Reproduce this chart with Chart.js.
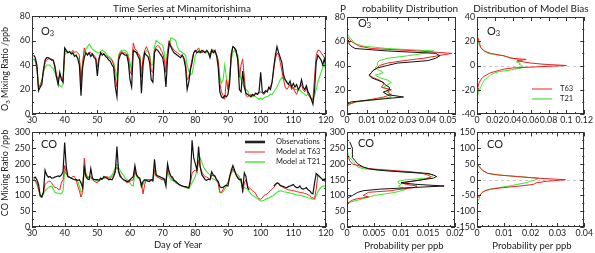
<!DOCTYPE html>
<html>
<head>
<meta charset="utf-8">
<script src="https://cdn.jsdelivr.net/npm/chart.js@4.4.1/dist/chart.umd.min.js"></script>
<style>
  body { margin: 0; background: #fff; width: 595px; height: 253px; overflow: hidden; position: relative; }
  canvas { position: absolute; }
</style>
</head>
<body>
<canvas id="o3Series"></canvas>
<canvas id="coSeries"></canvas>
<canvas id="o3Prob"></canvas>
<canvas id="coProb"></canvas>
<canvas id="o3Bias"></canvas>
<canvas id="coBias"></canvas>
<script>
// time series sampled every half day, starting at day 30.5
const dayStart = 30.5;
const dayStep = 0.5;

const o3Obs = [
  48,46,40,19,22,24,36,44,46,46,
  45,44,44,38,30,24,34,28,26,54,
  52,50,51,49,50,47,48,45,40,15,
  38,46,50,48,50,47,49,46,45,31,
  44,50,48,49,47,46,44,43,40,38,
  22,14,44,48,50,49,48,48,42,28,
  22,52,51,50,47,44,17,40,50,48,
  47,42,28,26,50,53,52,50,48,46,
  38,22,45,58,55,52,50,49,48,47,
  46,48,45,38,20,26,36,42,50,52,
  50,51,50,52,51,50,52,50,46,52,
  50,52,48,38,18,14,13,15,14,16,
  25,48,55,54,52,44,20,18,35,22,
  17,16,15,14,16,15,17,16,18,34,
  18,17,19,18,22,20,26,38,48,55,
  50,46,42,32,28,26,24,27,22,25,
  22,24,20,22,28,22,20,23,18,16,
  12,8,20,42,48,46,44,40,45,38
];
const o3T63 = [
  45,44,38,22,23,26,35,42,44,45,
  45,45,44,40,32,28,32,30,28,50,
  52,50,51,50,52,50,51,50,48,25,
  42,54,50,49,50,50,49,48,46,38,
  46,49,50,49,48,47,46,45,44,40,
  30,22,46,50,51,50,50,49,46,35,
  32,58,53,52,49,47,30,46,52,55,
  52,48,35,34,52,55,56,55,52,50,
  44,34,52,60,56,54,52,51,50,49,
  48,48,46,42,28,30,38,45,50,51,
  52,54,51,50,51,50,52,50,48,52,
  52,50,48,44,25,18,15,12,28,20,
  30,50,55,54,50,45,30,40,45,30,
  15,14,15,16,15,16,17,16,17,18,
  17,16,18,19,20,22,26,36,45,50,
  48,42,35,28,22,20,22,24,20,22,
  18,16,20,22,24,20,18,21,16,14,
  12,12,30,48,52,52,50,48,46,44
];
const o3T21 = [
  45,43,38,22,24,28,34,38,40,40,
  40,38,37,34,30,25,23,22,24,48,
  50,50,51,49,49,48,48,46,44,30,
  42,50,53,55,57,55,53,52,51,50,
  50,51,52,51,50,48,47,46,44,42,
  36,30,48,51,52,52,52,51,48,42,
  36,52,51,50,49,48,36,42,50,52,
  51,48,40,40,55,60,59,58,57,56,
  50,40,50,55,62,62,61,60,55,52,
  51,50,49,48,40,35,32,33,40,48,
  50,52,51,50,52,50,51,50,49,53,
  52,50,48,44,30,25,28,40,30,20,
  30,45,50,52,50,48,35,28,25,22,
  20,19,16,15,14,15,14,13,12,13,
  12,13,14,14,15,16,16,18,20,22,
  25,28,30,29,28,26,25,23,22,21,
  20,20,19,20,18,17,16,15,16,14,
  13,12,15,20,26,30,34,38,40,36
];

const coObs = [
  155,158,150,135,100,95,110,180,165,158,
  160,155,156,158,160,162,160,165,175,268,
  190,160,158,155,152,150,150,148,150,140,
  125,190,160,152,150,185,155,150,150,150,
  148,155,152,160,158,155,150,152,150,160,
  175,255,175,160,155,150,148,145,145,150,
  155,160,195,165,158,155,130,145,150,148,
  145,145,150,148,215,165,162,160,158,155,
  152,130,200,175,162,158,148,145,140,135,
  132,130,128,128,126,124,150,275,220,200,
  180,255,190,165,158,150,148,152,150,175,
  165,162,150,145,128,125,126,130,132,130,
  160,180,195,180,165,155,150,152,118,172,
  160,125,118,null,null,null,null,null,null,null,
  null,null,null,null,null,null,null,130,135,140,
  138,132,130,128,126,125,128,130,132,135,
  128,125,125,130,122,120,122,125,118,115,
  108,105,140,170,165,160,155,150,152,145
];
const coT63 = [
  150,148,140,120,100,98,110,135,140,145,
  145,140,132,125,125,120,118,140,150,195,
  170,160,158,155,160,160,150,130,115,95,
  110,218,170,155,158,160,150,145,142,140,
  145,150,152,155,158,160,155,155,160,165,
  180,190,180,165,155,150,145,140,142,145,
  148,150,180,165,160,150,140,105,135,150,
  150,150,148,145,180,160,158,155,152,150,
  150,150,190,170,160,150,145,140,138,135,
  132,130,128,127,126,125,140,170,178,180,
  178,210,190,175,165,160,158,155,150,165,
  162,160,150,140,110,110,120,130,135,140,
  160,175,185,175,165,160,150,150,110,140,
  150,130,125,120,115,112,105,95,90,88,
  92,100,102,105,110,115,120,125,132,140,
  138,130,128,125,122,120,118,117,116,115,
  114,112,111,110,109,108,106,105,102,100,
  95,92,90,120,165,160,155,150,145,140
];
const coT21 = [
  150,145,135,120,95,95,105,115,120,125,
  128,130,120,110,108,108,106,105,115,175,
  168,160,158,155,152,150,148,145,130,110,
  115,170,165,160,158,155,152,150,148,145,
  148,150,152,155,155,156,158,160,165,175,
  190,200,188,180,170,165,155,150,145,140,
  132,130,175,160,155,150,125,135,148,150,
  150,150,148,145,190,170,160,155,152,150,
  148,145,175,160,150,148,145,142,138,135,
  132,130,128,125,123,122,130,140,150,160,
  180,210,220,205,190,182,175,170,165,155,
  152,150,145,140,110,108,112,120,130,140,
  155,170,180,175,170,165,160,140,130,125,
  122,120,112,105,100,98,94,90,86,82,
  83,85,88,90,92,95,98,100,105,110,
  113,115,114,112,111,110,109,108,106,105,
  104,102,101,100,99,98,96,95,93,92,
  90,88,88,100,110,120,126,130,130,128
];

// probability distributions (value bins in ppb, probability per ppb)
const o3Bins = [6,8,10,12,14,16,18,20,22,24,26,28,30,32,34,36,38,40,42,44,46,48,50,52,54,56,58,60,62,64,66];
const o3ProbObs = [0,0,0.002,0.015,0.028,0.020,0.018,0.021,0.021,0.019,0.018,0.015,0.012,0.011,0.012,0.013,0.015,0.020,0.025,0.040,0.044,0.046,0.044,0.020,0.004,0.002,0.001,0.001,0,0,0];
const o3ProbT63 = [0,0.001,0.004,0.012,0.018,0.022,0.020,0.022,0.017,0.018,0.018,0.016,0.013,0.011,0.012,0.013,0.015,0.016,0.020,0.028,0.038,0.045,0.052,0.035,0.012,0.006,0.004,0.002,0.001,0,0];
const o3ProbT21 = [0,0.001,0.005,0.015,0.022,0.020,0.018,0.021,0.018,0.020,0.022,0.020,0.016,0.014,0.018,0.016,0.014,0.015,0.015,0.016,0.020,0.030,0.038,0.043,0.020,0.008,0.004,0.003,0.002,0.001,0];

const coBins = [75,80,85,90,95,100,105,110,115,120,125,130,135,140,145,150,155,160,165,170,175,180,185,190,200,210,220,230,250,270];
const coProbObs = [0,0,0,0,0.0005,0.001,0.0015,0.002,0.003,0.006,0.012,0.018,0.013,0.010,0.012,0.014,0.016,0.0166,0.016,0.015,0.010,0.006,0.004,0.003,0.002,0.0015,0.001,0.001,0.001,0.0005];
const coProbT63 = [0,0.0005,0.001,0.002,0.004,0.003,0.0035,0.004,0.008,0.010,0.0125,0.013,0.011,0.010,0.012,0.014,0.015,0.0155,0.015,0.014,0.012,0.008,0.004,0.003,0.001,0.0005,0.0003,0,0,0];
const coProbT21 = [0,0.0008,0.002,0.003,0.004,0.005,0.007,0.009,0.010,0.011,0.010,0.0095,0.010,0.0095,0.0095,0.011,0.015,0.0158,0.016,0.014,0.010,0.006,0.003,0.002,0.0015,0.001,0.0005,0.0002,0,0];

// model bias distributions
const o3BiasBins = [-30,-28,-25,-22,-20,-18,-15,-12,-10,-8,-6,-5,-4,-3,-2,-1,0,1,2,3,4,5,6,8,10,12,15,18,20,23,25,28];
const o3BiasT63 = [0,0,0,0.001,0.002,0.001,0.002,0.004,0.006,0.010,0.015,0.020,0.025,0.030,0.040,0.070,0.100,0.075,0.060,0.052,0.045,0.055,0.038,0.030,0.015,0.008,0.004,0.003,0.002,0.001,0,0];
const o3BiasT21 = [0,0,0.001,0.002,0.003,0.004,0.006,0.008,0.012,0.015,0.020,0.025,0.035,0.042,0.050,0.052,0.050,0.047,0.048,0.044,0.050,0.045,0.040,0.030,0.012,0.008,0.004,0.002,0.001,0.001,0.001,0];

const coBiasBins = [-70,-65,-60,-55,-50,-45,-40,-35,-30,-25,-20,-15,-10,-5,0,5,10,15,20,25,30,35,40,45,50];
const coBiasT63 = [0,0,0,0.0005,0.001,0.0015,0.002,0.003,0.005,0.010,0.016,0.021,0.022,0.026,0.033,0.022,0.015,0.008,0.004,0.003,0.002,0.0015,0.001,0.0005,0];
const coBiasT21 = [0,0.0005,0.001,0.001,0.001,0.0015,0.002,0.003,0.005,0.008,0.012,0.015,0.018,0.020,0.022,0.023,0.015,0.008,0.004,0.003,0.002,0.0015,0.001,0.0005,0];

// tick labels
const dayTicks = [30,40,50,60,70,80,90,100,110,120];
const o3Ticks = [0,20,40,60,80];
const coTicks = [0,50,100,150,200,250,300];
const o3ProbTicks = [0,0.01,0.02,0.03,0.04,0.05];
const coProbTicks = [0,0.005,0.01,0.015,0.02];
const o3BiasProbTicks = [0,0.02,0.04,0.06,0.08,0.1,0.12];
const coBiasProbTicks = [0,0.01,0.02,0.03,0.04];
const o3BiasTicks = [-40,-20,0,20,40];
const coBiasTicks = [-150,-100,-50,0,50,100,150];

const BLACK = '#111111', RED = '#ee2020', GREEN = '#3fe62e', INK = '#222222';
const FONT = 'Lato, "Open Sans", sans-serif';

Chart.defaults.font.family = FONT;
Chart.defaults.color = INK;

const series = vals => vals.map((v, i) => ({ x: dayStart + i * dayStep, y: v }));
const profile = (bins, probs) => bins.map((b, i) => ({ x: probs[i], y: b }));

const O3 = [{ t: 'O' }, { t: '3', sub: true }];

// text, keys and tick spacing per panel, in page coordinates
const decor = {
  o3Series: {
    minor: [2, 10],
    texts: [
      { parts: [{ t: 'Time Series at Minamitorishima' }], x: 182, y: 8.5, size: 10, align: 'center' },
      { parts: [...O3, { t: ' Mixing Ratio /ppb' }], x: 5.5, y: 69, size: 9, align: 'center', rot: true },
      { parts: O3, x: 41, y: 31, size: 11 }
    ]
  },
  coSeries: {
    minor: [2, 25],
    texts: [
      { parts: [{ t: 'CO Mixing Ratio /ppb' }], x: 5.5, y: 173, size: 9, align: 'center', rot: true },
      { parts: [{ t: 'Day of Year' }], x: 178, y: 245, size: 9.5, align: 'center' },
      { parts: [{ t: 'CO' }], x: 41, y: 144.5, size: 11 }
    ],
    keys: [
      { label: 'Observations', color: '#222', width: 2.6, x1: 245, x2: 265, y: 142, tx: 276 },
      { label: 'Model at T63', color: RED, width: 1, x1: 245, x2: 265, y: 152, tx: 276 },
      { label: 'Model at T21', color: GREEN, width: 1.4, x1: 245, x2: 265, y: 162, tx: 276 }
    ]
  },
  o3Prob: {
    minor: [0.005, 10],
    texts: [
      { parts: [{ t: 'P' }], x: 340, y: 8.5, size: 10 },
      { parts: [{ t: 'robability Distribution' }], x: 362, y: 8.5, size: 10 },
      { parts: O3, x: 358, y: 23, size: 11 }
    ]
  },
  coProb: {
    minor: [0.001, 25],
    texts: [
      { parts: [{ t: 'CO' }], x: 358, y: 143.5, size: 11 },
      { parts: [{ t: 'Probability per ppb' }], x: 404, y: 246, size: 9.5, align: 'center' }
    ]
  },
  o3Bias: {
    minor: [0.01, 10],
    zero: true,
    texts: [
      { parts: [{ t: 'Distribution of Model Bias' }], x: 531, y: 8.5, size: 10, align: 'center' },
      { parts: O3, x: 487, y: 31, size: 11 }
    ],
    keys: [
      { label: 'T63', color: RED, width: 1, x1: 532, x2: 552, y: 89, tx: 560 },
      { label: 'T21', color: GREEN, width: 1.2, x1: 532, x2: 552, y: 99, tx: 560 }
    ]
  },
  coBias: {
    minor: [0.002, 25],
    zero: true,
    texts: [
      { parts: [{ t: 'CO' }], x: 487, y: 144, size: 11 },
      { parts: [{ t: 'Probability per ppb' }], x: 532, y: 246, size: 9.5, align: 'center' }
    ]
  }
};

function drawRich(ctx, parts, x, y, size, align) {
  const fontOf = p => (p.sub ? size * 0.68 : size) + 'px ' + FONT;
  let w = 0;
  parts.forEach(p => { ctx.font = fontOf(p); w += ctx.measureText(p.t).width; });
  let cx = align === 'center' ? x - w / 2 : x;
  parts.forEach(p => {
    ctx.font = fontOf(p);
    ctx.fillText(p.t, cx, y + (p.sub ? size * 0.28 : 0));
    cx += ctx.measureText(p.t).width;
  });
}

const framePlugin = {
  id: 'frame',
  beforeDatasetsDraw(chart) {
    const d = decor[chart.canvas.id];
    if (!d.zero) return;
    const { ctx, chartArea: a, scales: { y } } = chart;
    const py = Math.round(y.getPixelForValue(0)) + 0.5;
    ctx.save();
    ctx.strokeStyle = '#c8c8c8';
    ctx.lineWidth = 1;
    ctx.setLineDash([3, 3]);
    ctx.beginPath();
    ctx.moveTo(a.left, py);
    ctx.lineTo(a.right, py);
    ctx.stroke();
    ctx.restore();
  },
  afterDraw(chart) {
    const d = decor[chart.canvas.id];
    const { ctx, chartArea: a, scales: { x, y } } = chart;
    const ox = chart.canvas.offsetLeft, oy = chart.canvas.offsetTop;
    ctx.save();
    ctx.strokeStyle = '#333';
    ctx.lineWidth = 1;
    ctx.strokeRect(Math.round(a.left) + 0.5, Math.round(a.top) + 0.5,
      Math.round(a.right - a.left) - 1, Math.round(a.bottom - a.top) - 1);

    const marks = (scale, step) => {
      const out = [];
      for (let k = 0; ; k++) {
        const v = scale.min + k * step;
        if (v > scale.max + step * 1e-6) break;
        const major = scale.ticks.some(t => Math.abs(t.value - v) < step * 1e-3);
        out.push({ p: Math.round(scale.getPixelForValue(v)) + 0.5, len: major ? 4 : 2 });
      }
      return out;
    };
    ctx.beginPath();
    marks(x, d.minor[0]).forEach(m => {
      ctx.moveTo(m.p, a.bottom); ctx.lineTo(m.p, a.bottom - m.len);
      ctx.moveTo(m.p, a.top); ctx.lineTo(m.p, a.top + m.len);
    });
    marks(y, d.minor[1]).forEach(m => {
      ctx.moveTo(a.left, m.p); ctx.lineTo(a.left + m.len, m.p);
      ctx.moveTo(a.right, m.p); ctx.lineTo(a.right - m.len, m.p);
    });
    ctx.stroke();

    ctx.fillStyle = INK;
    ctx.textBaseline = 'middle';
    ctx.textAlign = 'left';
    d.texts.forEach(t => {
      ctx.save();
      ctx.translate(t.x - ox, t.y - oy);
      if (t.rot) ctx.rotate(-Math.PI / 2);
      drawRich(ctx, t.parts, 0, 0, t.size, t.align);
      ctx.restore();
    });
    (d.keys || []).forEach(k => {
      ctx.strokeStyle = k.color;
      ctx.lineWidth = k.width;
      ctx.beginPath();
      ctx.moveTo(k.x1 - ox, k.y - oy);
      ctx.lineTo(k.x2 - ox, k.y - oy);
      ctx.stroke();
      ctx.font = '7.5px ' + FONT;
      ctx.fillText(k.label, k.tx - ox, k.y - oy);
    });
    ctx.restore();
  }
};
Chart.register(framePlugin);

function axis(min, max, ticks, size, dir) {
  return {
    type: 'linear',
    min, max,
    grid: { display: false, drawTicks: false },
    border: { display: false },
    afterBuildTicks: s => { s.ticks = ticks.map(v => ({ value: v })); },
    afterFit: s => { if (dir === 'x') s.height = size; else s.width = size; },
    ticks: {
      padding: 2,
      autoSkip: false,
      maxRotation: 0,
      color: INK,
      font: { size: 8.8, lineHeight: 1 },
      callback: v => String(+v.toFixed(6))
    }
  };
}

function line(data, color, width) {
  return { data, borderColor: color, borderWidth: width, pointRadius: 0, showLine: true, tension: 0, fill: false };
}

function makeChart(id, box, datasets, xs, ys) {
  const cv = document.getElementById(id);
  cv.width = box.w;
  cv.height = box.h;
  cv.style.left = box.left + 'px';
  cv.style.top = box.top + 'px';
  return new Chart(cv, {
    type: 'scatter',
    data: { datasets },
    options: {
      responsive: false,
      animation: false,
      devicePixelRatio: 1,
      events: [],
      layout: { padding: box.pad },
      plugins: { legend: { display: false }, tooltip: { enabled: false } },
      scales: { x: xs, y: ys }
    }
  });
}

makeChart('o3Series', { left: 0, top: 0, w: 338, h: 126, pad: { top: 16, right: 12, bottom: 0, left: 0 } }, [
  line(series(o3Obs), BLACK, 1.2),
  line(series(o3T63), RED, 1),
  line(series(o3T21), GREEN, 1.1)
], axis(30, 120, dayTicks, 12, 'x'), axis(0, 80, o3Ticks, 32, 'y'));

makeChart('coSeries', { left: 0, top: 126, w: 338, h: 127, pad: { top: 5, right: 12, bottom: 14, left: 0 } }, [
  line(series(coObs), BLACK, 1.2),
  line(series(coT63), RED, 1),
  line(series(coT21), GREEN, 1.1)
], axis(30, 120, dayTicks, 12, 'x'), axis(0, 300, coTicks, 32, 'y'));

makeChart('o3Prob', { left: 326, top: 0, w: 140, h: 126, pad: { top: 17, right: 10, bottom: 0, left: 0 } }, [
  line(profile(o3Bins, o3ProbObs), BLACK, 1),
  line(profile(o3Bins, o3ProbT63), RED, 1),
  line(profile(o3Bins, o3ProbT21), GREEN, 1)
], axis(0, 0.054, o3ProbTicks, 12, 'x'), axis(0, 80, o3Ticks, 21, 'y'));

makeChart('coProb', { left: 326, top: 126, w: 140, h: 127, pad: { top: 5, right: 11, bottom: 14, left: 0 } }, [
  line(profile(coBins, coProbObs), BLACK, 1),
  line(profile(coBins, coProbT63), RED, 1),
  line(profile(coBins, coProbT21), GREEN, 1)
], axis(0, 0.02, coProbTicks, 12, 'x'), axis(0, 300, coTicks, 21, 'y'));

makeChart('o3Bias', { left: 456, top: 0, w: 139, h: 126, pad: { top: 17, right: 10, bottom: 0, left: 0 } }, [
  line(profile(o3BiasBins, o3BiasT63), RED, 1),
  line(profile(o3BiasBins, o3BiasT21), GREEN, 1)
], axis(0, 0.12, o3BiasProbTicks, 12, 'x'), axis(-40, 40, o3BiasTicks, 21, 'y'));

makeChart('coBias', { left: 456, top: 126, w: 139, h: 127, pad: { top: 5, right: 10, bottom: 14, left: 0 } }, [
  line(profile(coBiasBins, coBiasT63), RED, 1),
  line(profile(coBiasBins, coBiasT21), GREEN, 1)
], axis(0, 0.04, coBiasProbTicks, 12, 'x'), axis(-150, 150, coBiasTicks, 21, 'y'));
</script>
</body>
</html>
